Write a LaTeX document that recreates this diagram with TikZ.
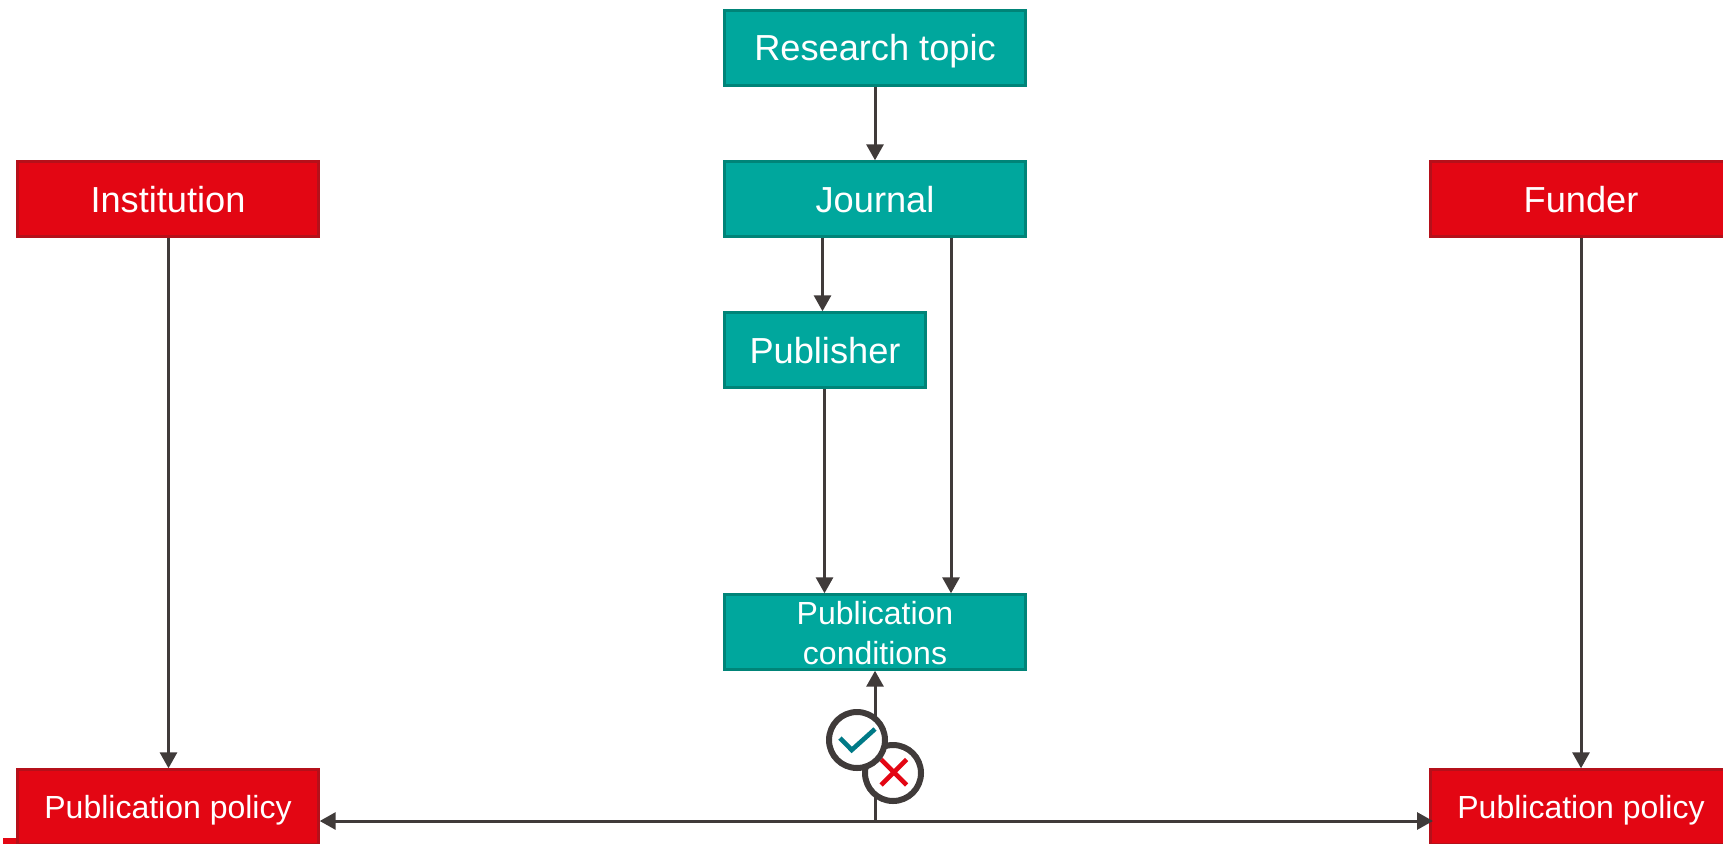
\documentclass[tikz,border=0pt]{standalone}
\usepackage{fontspec}
\setmainfont{Liberation Sans}
\usetikzlibrary{arrows.meta}
\definecolor{teal1}{HTML}{00A79D}
\definecolor{teal2}{HTML}{008478}
\definecolor{red1}{HTML}{E30613}
\definecolor{red2}{HTML}{B5101A}
\definecolor{line1}{HTML}{403B3A}
\definecolor{checkc}{HTML}{007A87}
\tikzset{
  x=1pt,y=-1pt,
  boxbase/.style={draw,line width=2.4pt,text=white,inner sep=0pt,align=center,minimum height=75pt,minimum width=301pt},
  tealbox/.style={boxbase,fill=teal1,draw=teal2},
  redbox/.style={boxbase,fill=red1,draw=red2},
  big/.style={font=\fontsize{36.2}{40}\selectfont,text height=26pt,text depth=0pt},
  small/.style={font=\fontsize{32}{36}\selectfont,text height=23pt,text depth=0pt},
  conn/.style={draw=line1,line width=3pt,-{Triangle[length=16pt,width=17pt]}},
  badge/.style={circle,draw=line1,line width=6pt,fill=white,minimum size=56pt,inner sep=0pt},
  stub/.style={fill=red1,inner sep=0pt,minimum width=14pt,minimum height=6pt},
}
\begin{document}
\begin{tikzpicture}
\useasboundingbox (0,0) rectangle (1723,843);
\node[stub] (stubn) at (10,841) {};
\node[tealbox,big] (topic) at (875,48) {Research topic};
\node[tealbox,big] (journal) at (875,199) {Journal};
\node[tealbox,big,minimum width=201pt] (publisher) at (825,350) {Publisher};
\node[tealbox,font=\fontsize{32}{36}\selectfont] (cond) at (875,632) {\raisebox{-32pt}[0pt][0pt]{\vbox{\baselineskip=39.5pt\hbox to 0pt{\hss Publication\hss}\hbox to 0pt{\hss conditions\hss}}}};
\node[redbox,big] (inst) at (168,199) {Institution};
\node[redbox,big] (funder) at (1581,199) {Funder};
\node[redbox,small] (polL) at (168,807) {Publication policy};
\node[redbox,small] (polR) at (1581,807) {Publication policy};
\coordinate (xa) at (822.5,0);
\coordinate (xb) at (951,0);
\coordinate (xc) at (824.5,0);
\coordinate (xi) at (168.5,0);
\coordinate (hub) at (875,821);
\coordinate (tipR) at (1433,821);
\draw[conn] (topic) -- (journal);
\draw[conn] (journal.south -| xa) -- (publisher.north -| xa);
\draw[conn] (journal.south -| xb) -- (cond.north -| xb);
\draw[conn] (publisher.south -| xc) -- (cond.north -| xc);
\draw[conn] (inst.south -| xi) -- (polL.north -| xi);
\draw[conn] (funder) -- (polR);
\draw[conn] (hub) -- (cond);
\draw[conn] (hub) -- (polL.east |- hub);
\draw[conn] (hub) -- (tipR);
\node[badge] (no) at (893,773) {};
\draw[red1,line width=4.6pt] (881,759.5) -- (906.5,785);
\draw[red1,line width=4.6pt] (906.5,759.5) -- (881,785);
\node[badge] (yes) at (857,740) {};
\draw[checkc,line width=4.6pt] (840,738) -- (851.7,750) -- (875,729);
\end{tikzpicture}
\end{document}
